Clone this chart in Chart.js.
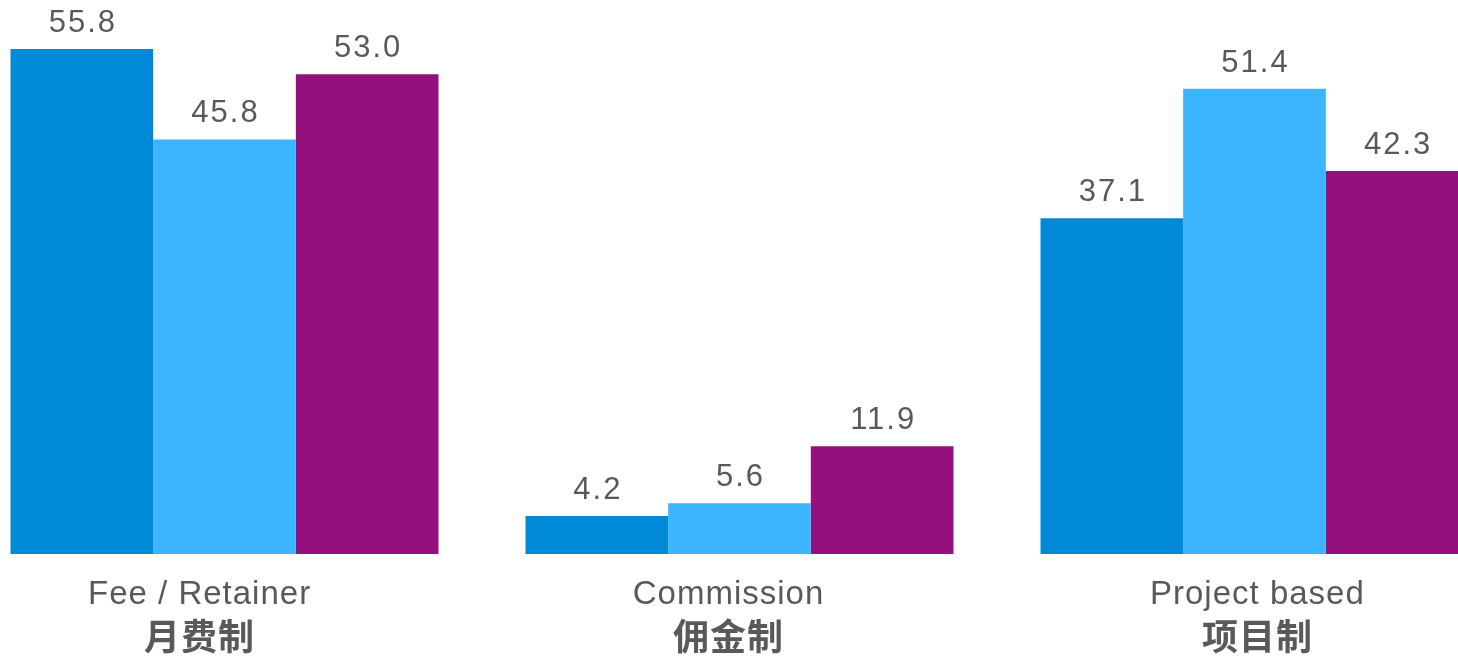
<!DOCTYPE html>
<html>
<head>
<meta charset="utf-8">
<script src="https://cdn.jsdelivr.net/npm/chart.js@4"></script>
<style>
  body { margin: 0; overflow: hidden; background: #fff; }
  #wrap { position: absolute; left: -33px; top: 0; }
</style>
</head>
<body>
<div id="wrap"><canvas id="canvas1" width="1545" height="657"></canvas></div>
<script>
const ctx = document.getElementById('canvas1').getContext('2d')

const labelsEn = ['Fee / Retainer', 'Commission', 'Project based']
const labelsZh = ['月费制', '佣金制', '项目制']
const series1 = [55.8, 4.2, 37.1]
const series2 = [45.8, 5.6, 51.4]
const series3 = [53.0, 11.9, 42.3]

const textColor = '#595959'

// labels above bars + two-line category labels
const drawLabels = {
  id: 'drawLabels',
  afterDatasetsDraw(chart) {
    const c = chart.ctx
    c.save()
    c.fillStyle = textColor
    c.textAlign = 'center'
    c.textBaseline = 'alphabetic'
    c.font = '31px "Liberation Sans", Arial, sans-serif'
    c.letterSpacing = '2px'
    chart.data.datasets.forEach((ds, i) => {
      chart.getDatasetMeta(i).data.forEach((bar, j) => {
        c.fillText(ds.data[j].toFixed(1), bar.x + 1, bar.y - 17)
      })
    })
    const xs = chart.scales.x
    const mid = xs.getPixelForValue(1)
    labelsEn.forEach((lab, j) => {
      // category labels sit a little wider apart than the bar groups
      const x = mid - 11 + (xs.getPixelForValue(j) - mid) * 1.027
      c.font = '33px "Liberation Sans", Arial, sans-serif'
      c.letterSpacing = '1px'
      c.fillText(lab, x, 604)
      c.font = 'bold 36px "Noto Sans CJK SC", sans-serif'
      c.letterSpacing = '1px'
      c.textBaseline = 'middle'
      c.fillText(labelsZh[j], x, 636)
      c.textBaseline = 'alphabetic'
    })
    c.restore()
  }
}

new Chart(ctx, {
  type: 'bar',
  data: {
    labels: labelsEn,
    datasets: [
      { data: series1, backgroundColor: '#0089d6' },
      { data: series2, backgroundColor: '#3cb4ff' },
      { data: series3, backgroundColor: '#93107e' }
    ]
  },
  options: {
    responsive: false,
    animation: false,
    layout: { padding: { top: 0, bottom: 103, left: 0, right: 0 } },
    datasets: { bar: { categoryPercentage: 0.831, barPercentage: 1.0 } },
    plugins: { legend: { display: false }, tooltip: { enabled: false } },
    scales: {
      x: { display: false },
      y: { display: false, min: 0, max: 61.2 }
    }
  },
  plugins: [drawLabels]
})
</script>
</body>
</html>
